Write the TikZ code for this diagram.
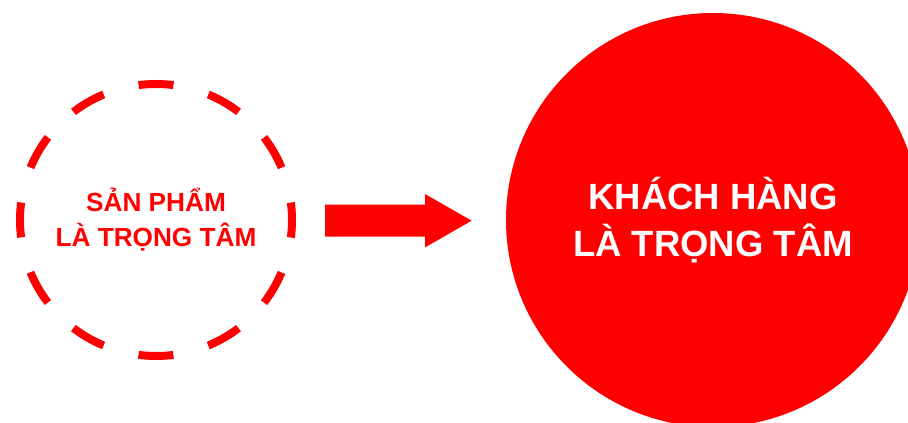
\documentclass[tikz,border=0pt]{standalone}
\usepackage{fontspec}
\setmainfont{Liberation Sans}
\definecolor{brandred}{RGB}{255,0,0}
\tikzset{
  dashring/.style={circle, draw=brandred, line width=8pt, minimum size=272pt, inner sep=0pt, outer sep=0pt,
    dash pattern=on 35pt off 36.209pt, dash phase=17.5pt,
    text=brandred, font=\fontsize{26.2}{35}\selectfont\bfseries, align=center},
  bigdisc/.style={circle, fill=brandred, minimum size=414pt, inner sep=0pt, outer sep=0pt,
    text=white, font=\fontsize{36.5}{47}\selectfont\bfseries, align=center},
  blockarrow/.style={fill=brandred, draw=none}
}
\begin{document}
\begin{tikzpicture}[x=1pt,y=1pt]
  \useasboundingbox (0,0) rectangle (908,423);
  \clip (0,0) rectangle (908,423);
  \fill[white] (0,0) rectangle (908,423);
  \node[dashring] (prod) at (156,203) {SẢN PHẨM\\LÀ TRỌNG TÂM};
  \node[bigdisc] (cust) at (713,203) {KHÁCH HÀNG\\LÀ TRỌNG TÂM};
  \coordinate (tail) at (325,202.3);
  \fill[blockarrow] (tail) ++(0,16) -- ++(100,0) -- ++(0,10.7) -- ++(46.7,-26.7)
     -- ++(-46.7,-26.7) -- ++(0,10.7) -- ++(-100,0) -- cycle;
\end{tikzpicture}
\end{document}
